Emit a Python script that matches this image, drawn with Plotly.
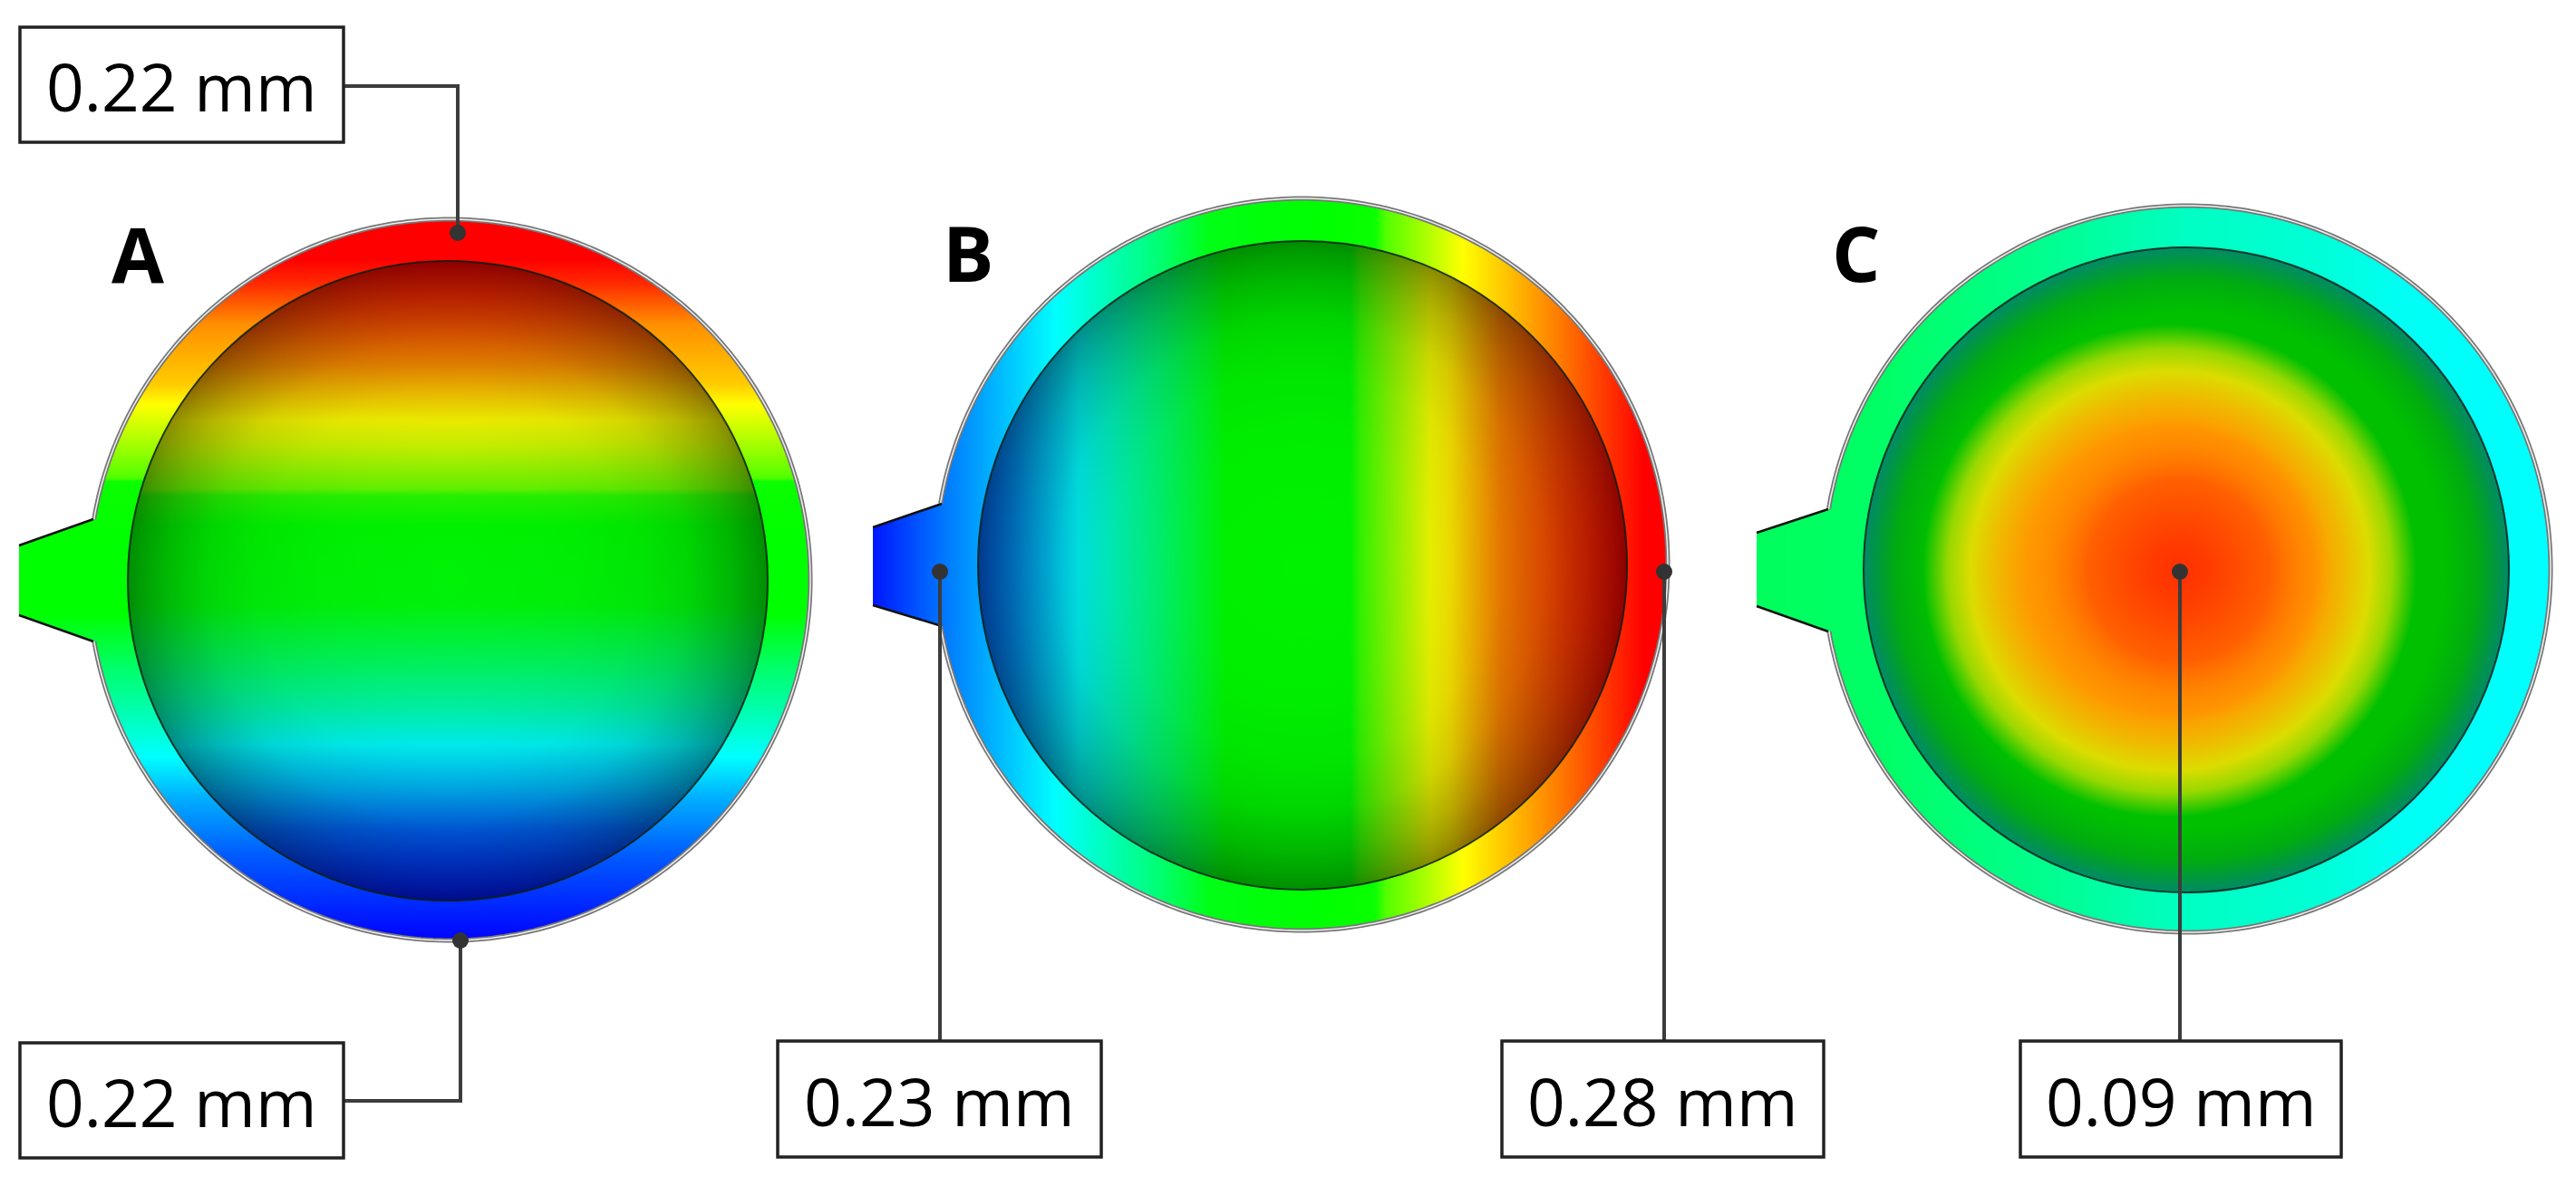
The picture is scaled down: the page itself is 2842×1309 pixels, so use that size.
import math
import plotly.graph_objects as go

W, H = 2842, 1309

# ---- data (value 0 = blue ... 1 = red) ----
A_ring_y = [230, 286, 312, 357, 424, 446, 491, 527, 531, 600, 677, 735, 790, 835, 881, 943, 1040]
A_ring_v = [1.0, 1.0, .96, .86, .80, .75, .66, .58, .51, .50, .50, .40, .32, .25, .17, .09, .0]
A_in_y = [288, 348, 402, 440, 464, 490, 504, 540, 547, 580, 668, 736, 781, 822, 871, 917, 995]
A_in_v = [1.0, .93, .86, .79, .75, .71, .68, .60, .54, .50, .49, .40, .33, .25, .18, .10, .02]

B_ring_x = [960, 1043, 1164, 1273, 1334, 1516, 1528, 1613, 1716, 1813, 1845]
B_ring_v = [.02, .12, .25, .38, .48, .51, .58, .75, .875, 1.0, 1.0]
B_in_x = [1078, 1120, 1190, 1261, 1334, 1353, 1490, 1500, 1520, 1578, 1600, 1655, 1728, 1796]
B_in_v = [.10, .15, .25, .36, .47, .50, .50, .55, .60, .74, .77, .87, .94, 1.0]

C_ring_x = [1930, 2080, 2260, 2410, 2560, 2650, 2820]
C_ring_v = [.41, .40, .36, .31, .29, .26, .25]
C_band_r = [0.0, .58, .70, .81, .90, 1.0]
C_band_c = ["#ff9800", "#ff9800", "#f0b800", "#dcdc00", "#98d800", "#00c000"]
C_core_r = [0.0, .2, .6, 1.0]
C_core_c = ["#ff3000", "#ff3c00", "#ff6000", "rgba(255,130,0,0)"]
C_rim_r = [0.0, .80, .90, .95, 1.0]
C_rim_c = ["#00c000", "#00c000", "#00ac10", "#009a38", "#008a68"]

RAMP = ["#0000ff", "#00ffff", "#00ff00", "#ffff00", "#ff0000"]
SHADE_R = [0.0, .4, .6, .75, .88, .96, 1.0]
SHADE_A = [.05, .07, .10, .16, .28, .38, .45]

labels = ["0.22 mm", "0.22 mm", "0.23 mm", "0.28 mm", "0.09 mm"]
letters = ["A", "B", "C"]

DISC_A = dict(cx=496, cy=640, R=398, ix=494, iy=641, r=353, tab=(21, 602, 679, 103, 573, 708))
DISC_B = dict(cx=1436, cy=623, R=404, ix=1437, iy=624, r=358, tab=(963, 582, 668, 1039, 556, 691))
DISC_C = dict(cx=2413, cy=628, R=401, ix=2412, iy=629, r=356, tab=(1938, 588, 669, 2017, 562, 697))
C_BAND = (2394, 630, 272)
C_CORE = (2404, 630, 168)

BOXES = [(22, 30, 379, 157), (22, 1151, 379, 1278), (858, 1149, 1215, 1277),
         (1657, 1149, 2012, 1277), (2229, 1149, 2583, 1277)]
LEADERS = [[(379, 95), (505, 95), (505, 257)],
           [(379, 1215), (508, 1215), (508, 1038)],
           [(1037, 1149), (1037, 631)],
           [(1836, 1149), (1836, 631)],
           [(2405, 1149), (2405, 631)]]
LETTER_POS = [(152, 279), (1068, 278), (2048, 278)]

rs = [tuple(int(c[i:i + 2], 16) for i in (1, 3, 5)) for c in RAMP]


def ramp(v):
    p = max(0, min(.99999, v)) * 4
    i = int(p)
    t = p - i
    return "rgb(%d,%d,%d)" % tuple(round(rs[i][k] + (rs[i + 1][k] - rs[i][k]) * t) for k in range(3))


scale = [[i / 4, c] for i, c in enumerate(RAMP)]


def circle(cx, cy, r, n=360, a0=0.0, a1=2 * math.pi):
    return [(cx + r * math.cos(a0 + (a1 - a0) * i / n), cy + r * math.sin(a0 + (a1 - a0) * i / n))
            for i in range(n + 1)]


def to_path(pts, close=True):
    return "M" + "L".join("%.1f,%.1f" % p for p in pts) + ("Z" if close else "")


def disc_outline(d):
    x0, y0, y1, xj, yj0, yj1 = d["tab"]
    a_top = math.atan2(yj0 - d["cy"], xj - d["cx"]) % (2 * math.pi)
    a_bot = math.atan2(yj1 - d["cy"], xj - d["cx"]) % (2 * math.pi)
    arc = circle(d["cx"], d["cy"], d["R"], a0=a_top, a1=a_bot + 2 * math.pi * (a_bot < a_top), n=360)
    return arc, [(xj, yj1), (x0, y1), (x0, y0), (xj, yj0)]


def axis_stops(pos, vals):
    lo, hi = pos[0], pos[-1]
    return [[(p - lo) / (hi - lo), ramp(v)] for p, v in zip(pos, vals)]


fig = go.Figure()


def hm_rows(ys, vs, d):
    x0 = d["tab"][0] - 2
    x1 = d["cx"] + d["R"] + 6
    fig.add_trace(go.Heatmap(x=[x0, x1], y=ys, z=[[v, v] for v in vs], zmin=0, zmax=1, colorscale=scale,
                             zsmooth="best", showscale=False, hoverinfo="skip"))


def hm_cols(xs, vs, d):
    y0, y1 = d["cy"] - d["R"] - 6, d["cy"] + d["R"] + 6
    fig.add_trace(go.Heatmap(x=xs, y=[y0, y1], z=[vs, vs], zmin=0, zmax=1, colorscale=scale,
                             zsmooth="best", showscale=False, hoverinfo="skip"))


def fill_disc(cx, cy, r, grad):
    pts = circle(cx, cy, r)
    fig.add_trace(go.Scatter(x=[p[0] for p in pts], y=[p[1] for p in pts], mode="lines", fill="toself",
                             line=dict(width=0, color="rgba(0,0,0,0)"), fillgradient=grad,
                             hoverinfo="skip", showlegend=False))


hm_rows(A_ring_y, A_ring_v, DISC_A)
hm_cols(B_ring_x, B_ring_v, DISC_B)
hm_cols(C_ring_x, C_ring_v, DISC_C)

shade = [[p, "rgba(0,0,0,%g)" % a] for p, a in zip(SHADE_R, SHADE_A)]

fill_disc(DISC_A["ix"], DISC_A["iy"], DISC_A["r"],
          dict(type="vertical", colorscale=axis_stops(A_in_y, A_in_v), start=A_in_y[0], stop=A_in_y[-1]))
fill_disc(DISC_A["ix"], DISC_A["iy"], DISC_A["r"], dict(type="radial", colorscale=shade))
fill_disc(DISC_B["ix"], DISC_B["iy"], DISC_B["r"],
          dict(type="horizontal", colorscale=axis_stops(B_in_x, B_in_v), start=B_in_x[0], stop=B_in_x[-1]))
fill_disc(DISC_B["ix"], DISC_B["iy"], DISC_B["r"], dict(type="radial", colorscale=shade))
fill_disc(DISC_C["ix"], DISC_C["iy"], DISC_C["r"],
          dict(type="radial", colorscale=[[p, c] for p, c in zip(C_rim_r, C_rim_c)]))
fill_disc(*C_BAND, dict(type="radial", colorscale=[[p, c] for p, c in zip(C_band_r, C_band_c)]))
fill_disc(*C_CORE, dict(type="radial", colorscale=[[p, c] for p, c in zip(C_core_r, C_core_c)]))

shapes = []
mask = "M0,0L%d,0L%d,%dL0,%dZ" % (W, W, H, H)
outlines = []
for d in (DISC_A, DISC_B, DISC_C):
    arc, tab = disc_outline(d)
    mask += to_path(arc + tab)
    outlines.append((arc, tab, d))
shapes.append(dict(type="path", path=mask, fillcolor="white", line=dict(width=0), layer="above",
                   xref="x", yref="y"))
for arc, tab, d in outlines:
    shapes.append(dict(type="path", path=to_path(arc, False), line=dict(color="#777777", width=5),
                       xref="x", yref="y"))
    shapes.append(dict(type="path", path=to_path(arc, False), line=dict(color="#f0f0f0", width=1.5),
                       xref="x", yref="y"))
    shapes.append(dict(type="path", path=to_path(tab[:2], False), line=dict(color="#111", width=2.5),
                       xref="x", yref="y"))
    shapes.append(dict(type="path", path=to_path(tab[2:], False), line=dict(color="#111", width=2.5),
                       xref="x", yref="y"))
    shapes.append(dict(type="circle", x0=d["ix"] - d["r"], x1=d["ix"] + d["r"], y0=d["iy"] - d["r"],
                       y1=d["iy"] + d["r"], line=dict(color="rgba(10,30,20,0.85)", width=2),
                       xref="x", yref="y"))

for pts in LEADERS:
    shapes.append(dict(type="path", path=to_path(pts, False), line=dict(color="#3c3c3c", width=4),
                       xref="x", yref="y"))
    ex, ey = pts[-1]
    shapes.append(dict(type="circle", x0=ex - 9, x1=ex + 9, y0=ey - 9, y1=ey + 9, fillcolor="#333333",
                       line=dict(width=0), xref="x", yref="y"))

ann = []
for (x0, y0, x1, y1), t in zip(BOXES, labels):
    shapes.append(dict(type="rect", x0=x0, y0=y0, x1=x1, y1=y1, fillcolor="white",
                       line=dict(color="#222222", width=3.5), xref="x", yref="y"))
    ann.append(dict(x=(x0 + x1) / 2, y=(y0 + y1) / 2 + 1, text=t, showarrow=False, xanchor="center",
                    yanchor="middle", font=dict(family="Open Sans", size=73, color="#000")))
for (x, y), t in zip(LETTER_POS, letters):
    ann.append(dict(x=x, y=y, text="<b>%s</b>" % t, showarrow=False, xanchor="center", yanchor="middle",
                    font=dict(family="Open Sans", size=84, color="#000")))

fig.update_layout(
    width=W, height=H, margin=dict(l=0, r=0, t=0, b=0), paper_bgcolor="white", plot_bgcolor="white",
    xaxis=dict(range=[0, W], visible=False, fixedrange=True),
    yaxis=dict(range=[H, 0], visible=False, fixedrange=True),
    shapes=shapes, annotations=ann, showlegend=False,
)
fig.write_html("out.html", config=dict(displayModeBar=False),
               post_script="document.body.style.margin='0';document.body.style.overflow='hidden';")
